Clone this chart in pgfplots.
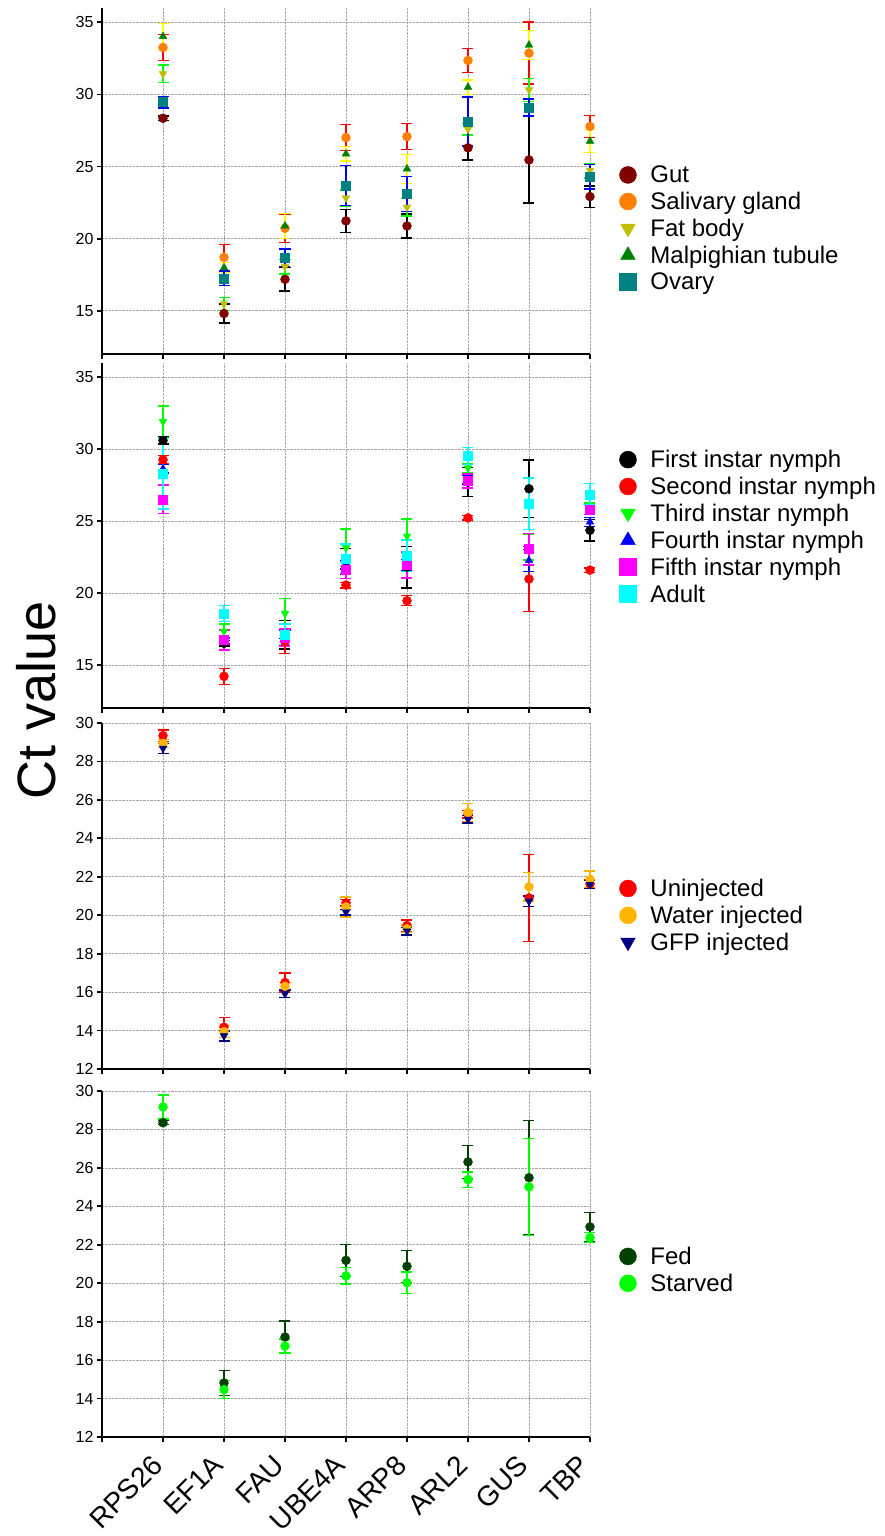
\documentclass[border=0pt]{standalone}
\usepackage{fontspec}
\setmainfont{Liberation Sans}
\usepackage{pgfplots}
\pgfplotsset{compat=1.18}
\usepackage{pgfplotstable}

\definecolor{gutc}{RGB}{128,0,0}
\definecolor{salc}{RGB}{255,128,0}
\definecolor{fatc}{RGB}{191,191,0}
\definecolor{malc}{RGB}{0,128,0}
\definecolor{ovac}{RGB}{0,128,128}
\definecolor{lgreen}{RGB}{0,255,0}
\definecolor{yel}{RGB}{255,255,0}
\definecolor{wat}{RGB}{255,180,0}
\definecolor{navyc}{RGB}{0,0,128}
\definecolor{fedc}{RGB}{0,64,0}
\definecolor{redc}{RGB}{255,0,0}
\definecolor{bluec}{RGB}{0,0,255}
\definecolor{magc}{RGB}{255,0,255}
\definecolor{cyac}{RGB}{0,255,255}

% tissues: gut, salivary gland, fat body, malpighian tubule, ovary
\pgfplotstableread{
x g ge s se f fe m me o oe
1 28.35 0.15 33.26 0.90 31.44 0.60 34.03 0.90 29.47 0.40
2 14.81 0.65 18.70 0.90 15.46 0.45 17.99 0.35 17.25 0.50
3 17.18 0.80 20.72 1.00 18.06 0.50 20.88 0.85 18.68 0.60
4 21.23 0.80 27.01 0.90 22.82 0.55 25.88 0.50 23.68 1.40
5 20.88 0.83 27.08 0.90 22.18 0.60 24.84 1.00 23.10 1.20
6 26.30 0.85 32.36 0.85 27.59 0.40 30.51 0.50 28.12 1.70
7 25.46 3.00 32.87 2.15 30.32 0.80 33.43 1.00 29.10 0.60
8 22.92 0.74 27.78 0.78 24.72 0.50 26.76 0.80 24.28 0.85
}\tissue

% stages: first..fifth instar nymph, adult
\pgfplotstableread{
x a ae b be c ce d de e ee f fe
1 30.61 0.25 29.27 0.30 31.92 1.10 28.64 0.30 26.51 1.00 28.30 2.45
2 16.50 0.20 14.20 0.55 17.34 0.50 16.66 0.20 16.73 0.70 18.58 0.55
3 17.10 1.00 16.60 0.80 18.58 1.05 17.13 0.30 16.90 0.60 17.13 0.70
4 22.20 0.90 20.55 0.20 23.14 1.30 21.98 0.30 21.59 0.60 22.40 1.00
5 21.80 1.45 19.46 0.35 23.95 1.20 21.94 0.40 21.94 0.90 22.58 1.10
6 27.72 1.00 25.22 0.15 28.69 0.30 27.88 0.30 27.79 0.50 29.52 0.58
7 27.25 2.00 20.97 2.27 23.20 0.90 22.26 0.75 23.05 1.10 26.21 1.80
8 24.36 0.75 21.59 0.15 25.85 0.40 24.94 0.30 25.77 0.30 26.86 0.75
}\stage

% injection: uninjected, water, GFP
\pgfplotstableread{
x u ue w we g ge
1 29.34 0.30 28.94 0.20 28.68 0.26
2 14.17 0.52 13.95 0.30 13.72 0.26
3 16.50 0.49 16.30 0.20 15.91 0.20
4 20.64 0.17 20.43 0.52 20.16 0.15
5 19.46 0.30 19.29 0.20 19.17 0.20
6 25.25 0.20 25.34 0.48 24.99 0.20
7 20.90 2.26 21.48 0.75 20.73 0.27
8 21.63 0.20 21.86 0.43 21.60 0.20
}\inject

% feeding: fed, starved
\pgfplotstableread{
x f fe s se
1 28.35 0.10 29.17 0.62
2 14.81 0.66 14.46 0.47
3 17.20 0.83 16.73 0.37
4 21.19 0.83 20.38 0.43
5 20.88 0.83 20.03 0.56
6 26.31 0.87 25.39 0.40
7 25.49 2.97 25.01 2.53
8 22.93 0.75 22.37 0.26
}\feed

\pgfplotsset{
  panel/.style={
    scale only axis, width=488pt, height=346pt,
    anchor=south west,
    xmin=0, xmax=8, xtick={0,...,8}, xticklabels={},
    axis x line=bottom, axis y line=left,
    axis line style={-, line width=1.8pt},
    tick align=outside, major tick length=5pt,
    tick style={line width=1.8pt, black},
    grid=major, major grid style={densely dotted, gray!70, line width=0.7pt},
    ticklabel style={font=\fontsize{16}{16}\selectfont},
    /pgf/number format/assume math mode=true,
    legend style={draw=none, fill=none, inner sep=0pt, anchor=west,
      font=\fontsize{24}{28}\selectfont, column sep=12pt, row sep=6pt,
      nodes={inner xsep=2pt, inner ysep=1pt}},
    legend cell align=left,
    legend image post style={mark size=8.5pt},
    clip=false,
  },
  ser/.style n args={3}{only marks, #1, color=#2, fill=#2, mark size=4.5pt,
    error bars/.cd, y dir=both, y explicit,
    error bar style={color=#3, line width=1.4pt},
    error mark options={rotate=90, mark size=5.5pt, line width=1.4pt, color=#3}},
}

\begin{document}
\begin{tikzpicture}[x=1pt,y=1pt]
\path[use as bounding box] (0,0) rectangle (885,1536);

\begin{axis}[panel, at={(102pt,1182pt)}, ymin=12, ymax=36, ytick={15,20,...,35},
  legend style={at={(rel axis cs:1.06,0.363)}}]
\addplot[ser={mark=*}{gutc}{black}] table[x=x,y=g,y error=ge]{\tissue};
\addplot[ser={mark=*}{salc}{redc}] table[x=x,y=s,y error=se]{\tissue};
\addplot[ser={mark=triangle*, mark options={rotate=180}}{fatc}{lgreen}] table[x=x,y=f,y error=fe]{\tissue};
\addplot[ser={mark=triangle*}{malc}{yel}] table[x=x,y=m,y error=me]{\tissue};
\addplot[ser={mark=square*}{ovac}{bluec}] table[x=x,y=o,y error=oe]{\tissue};
\legend{Gut, Salivary gland, Fat body, Malpighian tubule, Ovary}
\end{axis}

\begin{axis}[panel, at={(102pt,828pt)}, height=345pt, ymin=12, ymax=36, ytick={15,20,...,35},
  legend style={at={(rel axis cs:1.06,0.525)}}]
\addplot[ser={mark=*}{black}{black}] table[x=x,y=a,y error=ae]{\stage};
\addplot[ser={mark=*}{redc}{redc}] table[x=x,y=b,y error=be]{\stage};
\addplot[ser={mark=triangle*, mark options={rotate=180}}{lgreen}{lgreen}] table[x=x,y=c,y error=ce]{\stage};
\addplot[ser={mark=triangle*}{bluec}{bluec}] table[x=x,y=d,y error=de]{\stage};
\addplot[ser={mark=square*}{magc}{magc}] table[x=x,y=e,y error=ee]{\stage};
\addplot[ser={mark=square*}{cyac}{cyac}] table[x=x,y=f,y error=fe]{\stage};
\legend{First instar nymph, Second instar nymph, Third instar nymph, Fourth instar nymph, Fifth instar nymph, Adult}
\end{axis}

\begin{axis}[panel, at={(102pt,467pt)}, ymin=12, ymax=30, ytick={12,14,...,30},
  legend style={at={(rel axis cs:1.06,0.444)}}]
\addplot[ser={mark=*}{redc}{redc}] table[x=x,y=u,y error=ue]{\inject};
\addplot[ser={mark=*}{wat}{wat}] table[x=x,y=w,y error=we]{\inject};
\addplot[ser={mark=triangle*, mark options={rotate=180}}{navyc}{navyc}] table[x=x,y=g,y error=ge]{\inject};
\legend{Uninjected, Water injected, GFP injected}
\end{axis}

\begin{axis}[panel, at={(102pt,99pt)}, ymin=12, ymax=30, ytick={12,14,...,30},
  xticklabels={,RPS26,EF1A,FAU,UBE4A,ARP8,ARL2,GUS,TBP},
  xticklabel style={rotate=45, anchor=north east, font=\fontsize{28}{28}\selectfont,
    inner sep=1pt, xshift=-16pt, yshift=2pt},
  legend style={at={(rel axis cs:1.06,0.483)}}]
\addplot[ser={mark=*}{fedc}{fedc}] table[x=x,y=f,y error=fe]{\feed};
\addplot[ser={mark=*}{lgreen}{lgreen}] table[x=x,y=s,y error=se]{\feed};
\legend{Fed, Starved}
\end{axis}

\node[rotate=90, font=\fontsize{54}{54}\selectfont] at (36,836) {Ct value};
\end{tikzpicture}
\end{document}
